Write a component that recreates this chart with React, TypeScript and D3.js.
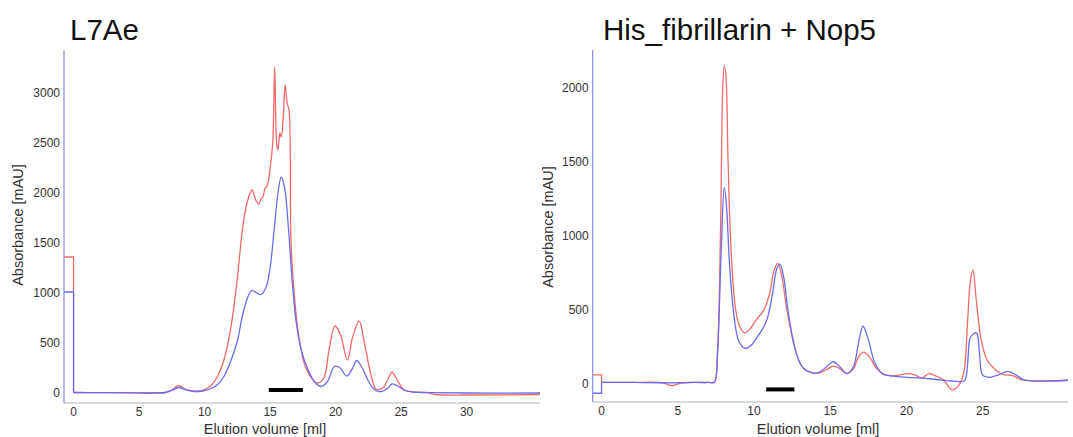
import * as d3 from "d3";

// elution volume (ml) and absorbance (mAU)
const l7aeBlue: [number, number][] = [
  [0, 5], [2, 3], [4, 2], [6, 0], [7, 5], [7.5, 25], [8, 55], [8.5, 35], [9, 20], [9.5, 15],
  [10, 25], [10.5, 45], [11, 85], [11.5, 170], [12, 320], [12.5, 520], [12.9, 780], [13.3, 960],
  [13.6, 1025], [14, 1000], [14.3, 985], [14.7, 1060], [15, 1250], [15.3, 1620], [15.6, 2000],
  [15.85, 2160], [16.1, 2060], [16.4, 1650], [16.7, 1100], [17, 700], [17.4, 420], [17.9, 230],
  [18.4, 110], [18.9, 65], [19.4, 120], [19.9, 265], [20.3, 255], [20.85, 170], [21.3, 250],
  [21.6, 325], [22, 260], [22.5, 120], [23, 30], [23.5, 15], [24, 50], [24.3, 90], [24.8, 65],
  [25.3, 25], [26, 8], [27, 4], [30, 0], [35.6, 0],
];
const l7aeRed: [number, number][] = [
  [0, 5], [2, 3], [4, 3], [6, 0], [7, 5], [7.5, 30], [8, 75], [8.5, 40], [9, 22], [9.5, 20],
  [10, 35], [10.5, 75], [11, 170], [11.5, 340], [12, 650], [12.5, 1150], [12.9, 1650], [13.2, 1880],
  [13.45, 1990], [13.65, 2030], [13.9, 1930], [14.15, 1890], [14.3, 1940], [14.45, 1960],
  [14.6, 2040], [14.8, 2080], [15, 2250], [15.2, 2500], [15.35, 3260], [15.5, 2500], [15.6, 2430],
  [15.75, 2600], [15.85, 2560], [16.0, 2750], [16.15, 3080], [16.3, 2900], [16.45, 2820],
  [16.6, 1500], [16.9, 900], [17.2, 560], [17.6, 300], [18.1, 160], [18.6, 100], [19.1, 150],
  [19.5, 430], [19.95, 670], [20.35, 590], [20.9, 330], [21.3, 560], [21.8, 720], [22.2, 500],
  [22.7, 180], [23.1, 40], [23.6, 50], [24, 140], [24.3, 210], [24.7, 130], [25.2, 35], [26, 10],
  [27, 5], [27.6, -15], [30, -20], [35.6, -15],
];
const l7aeLead = { red: 1360, blue: 1010 };
const l7aeFraction: [number, number] = [14.9, 17.5];

const fibBlue: [number, number][] = [
  [0, 10], [2, 10], [4, 8], [5, 8], [6, 10], [7, 10], [7.4, 12], [7.6, 200], [7.85, 900],
  [8.05, 1330], [8.2, 1200], [8.4, 800], [8.7, 450], [9.0, 290], [9.4, 240], [9.8, 260],
  [10.3, 330], [10.8, 420], [11.2, 600], [11.5, 780], [11.7, 810], [11.95, 720], [12.2, 520],
  [12.5, 330], [12.8, 200], [13.2, 110], [13.8, 75], [14.3, 80], [14.8, 120], [15.2, 150],
  [15.6, 120], [16.1, 70], [16.5, 110], [16.9, 300], [17.15, 390], [17.5, 300], [17.9, 150],
  [18.4, 70], [19, 55], [20, 45], [21, 40], [22, 30], [23, 20], [23.8, 22], [24.0, 120],
  [24.15, 300], [24.3, 330], [24.6, 345], [24.8, 200], [25.0, 60], [25.5, 45], [26, 60],
  [26.7, 85], [27.2, 60], [27.7, 28], [30.6, 25],
];
const fibRed: [number, number][] = [
  [0, 10], [2, 10], [4, 8], [4.6, -12], [5.2, 6], [6, 10], [7, 10], [7.4, 12], [7.6, 200],
  [7.8, 1000], [7.95, 2000], [8.05, 2150], [8.15, 2100], [8.3, 1500], [8.5, 900], [8.8, 500],
  [9.1, 380], [9.4, 345], [9.8, 380], [10.2, 440], [10.6, 490], [11.0, 600], [11.3, 760],
  [11.55, 815], [11.8, 740], [12.1, 540], [12.5, 320], [12.8, 200], [13.2, 110], [13.8, 75],
  [14.3, 75], [14.8, 100], [15.2, 120], [15.6, 105], [16.1, 70], [16.5, 100], [16.9, 190],
  [17.2, 215], [17.6, 180], [18, 110], [18.5, 65], [19, 55], [19.5, 60], [20.2, 70], [20.6, 60],
  [21, 40], [21.5, 70], [21.9, 55], [22.4, 30], [23, -40], [23.5, 0], [23.8, 100], [24.0, 400],
  [24.2, 700], [24.36, 770], [24.6, 550], [24.9, 300], [25.3, 160], [25.8, 100], [26.3, 65],
  [27, 55], [27.5, 30], [30.6, 25],
];
const fibLead = { red: 61, blue: -63 };
const fibFraction: [number, number] = [10.8, 12.65];

const l7aeXTicks = [0, 5, 10, 15, 20, 25, 30];
const l7aeYTicks = [0, 500, 1000, 1500, 2000, 2500, 3000];
const fibXTicks = [0, 5, 10, 15, 20, 25];
const fibYTicks = [0, 500, 1000, 1500, 2000];

const RED = "#f06a6a";
const BLUE = "#6b6bf0";
const FONT = "Liberation Sans, Arial, sans-serif";

type PanelProps = {
  title: string;
  titleX: number;
  blue: [number, number][];
  red: [number, number][];
  lead: { red: number; blue: number };
  fraction: [number, number];
  fractionY: number;
  xDomain: [number, number];
  yDomain: [number, number];
  xRange: [number, number];
  yRange: [number, number];
  xTicks: number[];
  yTicks: number[];
  yTitleX: number;
  yTitleY: number;
  xTitleX: number;
};

function Panel(p: PanelProps) {
  const x = d3.scaleLinear().domain(p.xDomain).range(p.xRange);
  const y = d3.scaleLinear().domain(p.yDomain).range(p.yRange);
  const trace = d3
    .line<[number, number]>()
    .x((d) => x(d[0]))
    .y((d) => y(d[1]))
    .curve(d3.curveCatmullRom.alpha(0.5));
  const step = d3
    .line<[number, number]>()
    .x((d) => x(d[0]))
    .y((d) => y(d[1]));
  const x0 = p.xDomain[0];
  const redStep: [number, number][] = [[x0, p.lead.red], [0, p.lead.red], [0, p.red[0][1]]];
  const blueStep: [number, number][] = [[x0, p.lead.blue], [0, p.lead.blue], [0, p.blue[0][1]]];
  const [bottom, top] = p.yRange;

  return (
    <g>
      <text x={p.titleX} y={40} fontFamily={FONT} fontSize={29.5} fill="#111">
        {p.title}
      </text>
      <line x1={p.xRange[0]} x2={p.xRange[1]} y1={bottom} y2={bottom} stroke="#b4b4b4" strokeWidth={1.2} />
      <line x1={p.xRange[0]} x2={p.xRange[0]} y1={bottom} y2={top} stroke="#8a8ae6" strokeWidth={1.2} />
      {p.yTicks.map((t) => (
        <text key={t} x={p.xRange[0] - 4} y={y(t)} dy="0.35em" textAnchor="end" fontFamily={FONT} fontSize={12} fill="#333">
          {t}
        </text>
      ))}
      {p.xTicks.map((t) => (
        <text key={t} x={x(t)} y={bottom + 9} dy="0.35em" textAnchor="middle" fontFamily={FONT} fontSize={12} fill="#333">
          {t}
        </text>
      ))}
      <text x={p.xTitleX} y={434} textAnchor="middle" fontFamily={FONT} fontSize={14.5} fill="#333">
        Elution volume [ml]
      </text>
      <text
        transform={`translate(${p.yTitleX},${p.yTitleY}) rotate(-90)`}
        textAnchor="middle"
        fontFamily={FONT}
        fontSize={14.5}
        fill="#333"
      >
        Absorbance [mAU]
      </text>
      <path d={step(redStep) || ""} fill="none" stroke={RED} strokeWidth={1.3} />
      <path d={step(blueStep) || ""} fill="none" stroke={BLUE} strokeWidth={1.3} />
      <path d={trace(p.red) || ""} fill="none" stroke={RED} strokeWidth={1.3} />
      <path d={trace(p.blue) || ""} fill="none" stroke={BLUE} strokeWidth={1.3} />
      <rect
        x={x(p.fraction[0])}
        y={y(p.fractionY) - 2}
        width={x(p.fraction[1]) - x(p.fraction[0])}
        height={4}
        fill="#000"
      />
    </g>
  );
}

export default function App() {
  return (
    <svg width={1073} height={437} style={{ position: "absolute", left: 0, top: 0, background: "#fff" }}>
      <Panel
        title="L7Ae"
        titleX={70}
        blue={l7aeBlue}
        red={l7aeRed}
        lead={l7aeLead}
        fraction={l7aeFraction}
        fractionY={30}
        xDomain={[-0.73, 35.6]}
        yDomain={[-100, 3430]}
        xRange={[64, 540]}
        yRange={[403, 50]}
        xTicks={l7aeXTicks}
        yTicks={l7aeYTicks}
        yTitleX={23}
        yTitleY={225}
        xTitleX={265}
      />
      <Panel
        title="His_fibrillarin + Nop5"
        titleX={603}
        blue={fibBlue}
        red={fibRed}
        lead={fibLead}
        fraction={fibFraction}
        fractionY={-37}
        xDomain={[-0.58, 30.6]}
        yDomain={[-122, 2257]}
        xRange={[592.7, 1068]}
        yRange={[402, 50]}
        xTicks={fibXTicks}
        yTicks={fibYTicks}
        yTitleX={553}
        yTitleY={227}
        xTitleX={818}
      />
    </svg>
  );
}
